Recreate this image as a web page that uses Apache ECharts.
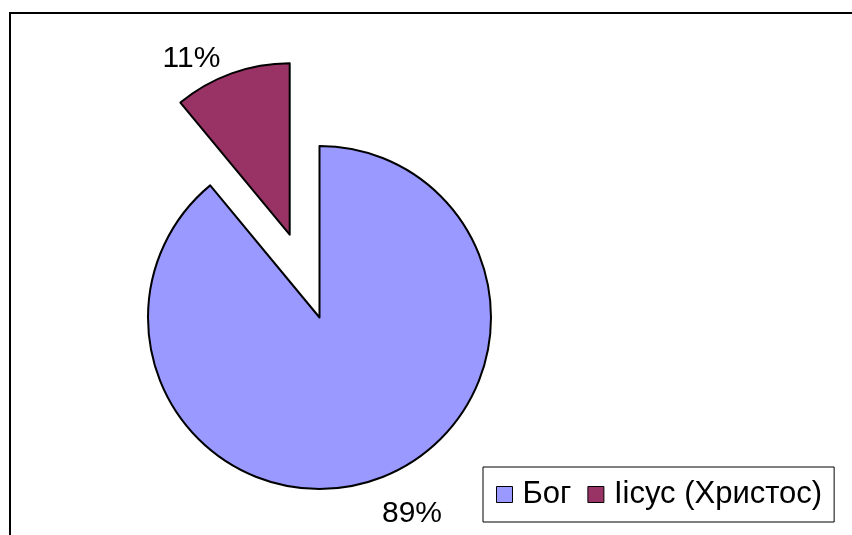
<!DOCTYPE html>
<html>
<head>
<meta charset="utf-8">
<script src="https://cdn.jsdelivr.net/npm/echarts@6/dist/echarts.min.js"></script>
<style>
html,body{margin:0;padding:0;background:#fff;}
#c{width:852px;height:535px;}
</style>
</head>
<body>
<div id="c"></div>
<script>
var categories = ['Бог', 'Іісус (Христос)'];
var values = [89, 11];
var colors = ['#9999FF', '#993366'];
var labelTexts = ['89%', '11%'];

var chart = echarts.init(document.getElementById('c'), null, {renderer: 'canvas'});
var labelPos = [[412, 514], [199, 39]];
chart.setOption({
  animation: false,
  backgroundColor: '#fff',
  graphic: [{
    type: 'rect',
    shape: {x: 10, y: 13, width: 1000, height: 1000},
    style: {fill: 'none', stroke: '#000', lineWidth: 2},
    silent: true,
    z: -1
  }],
  legend: {
    left: 483,
    top: 467,
    orient: 'horizontal',
    backgroundColor: '#fff',
    borderColor: '#000',
    borderWidth: 1,
    padding: [12, 12, 12, 13],
    itemGap: 16,
    itemWidth: 16,
    itemHeight: 16,
    icon: 'rect',
    itemStyle: {borderColor: '#000', borderWidth: 1},
    textStyle: {fontFamily: 'Liberation Sans, Arial', fontSize: 31, color: '#000', padding: [0, 0, 0, 5]},
    data: categories,
    selectedMode: false
  },
  series: [{
    type: 'pie',
    center: [319.5, 317.5],
    radius: 171.5,
    startAngle: 90,
    clockwise: true,
    selectedMode: 'single',
    selectedOffset: 88,
    emphasis: {disabled: true},
    itemStyle: {borderColor: '#000', borderWidth: 2},
    label: {
      show: true,
      position: 'outside',
      fontFamily: 'Liberation Sans, Arial',
      fontSize: 30,
      color: '#000',
      formatter: function (p) { return labelTexts[p.dataIndex]; }
    },
    labelLine: {show: false},
    labelLayout: function (p) {
      var pos = labelPos[p.dataIndex];
      return {x: pos[0], y: pos[1], align: 'center', verticalAlign: 'middle'};
    },
    data: categories.map(function (n, i) {
      return {name: n, value: values[i], selected: i === 1, itemStyle: {color: colors[i]}};
    })
  }]
});
</script>
</body>
</html>
